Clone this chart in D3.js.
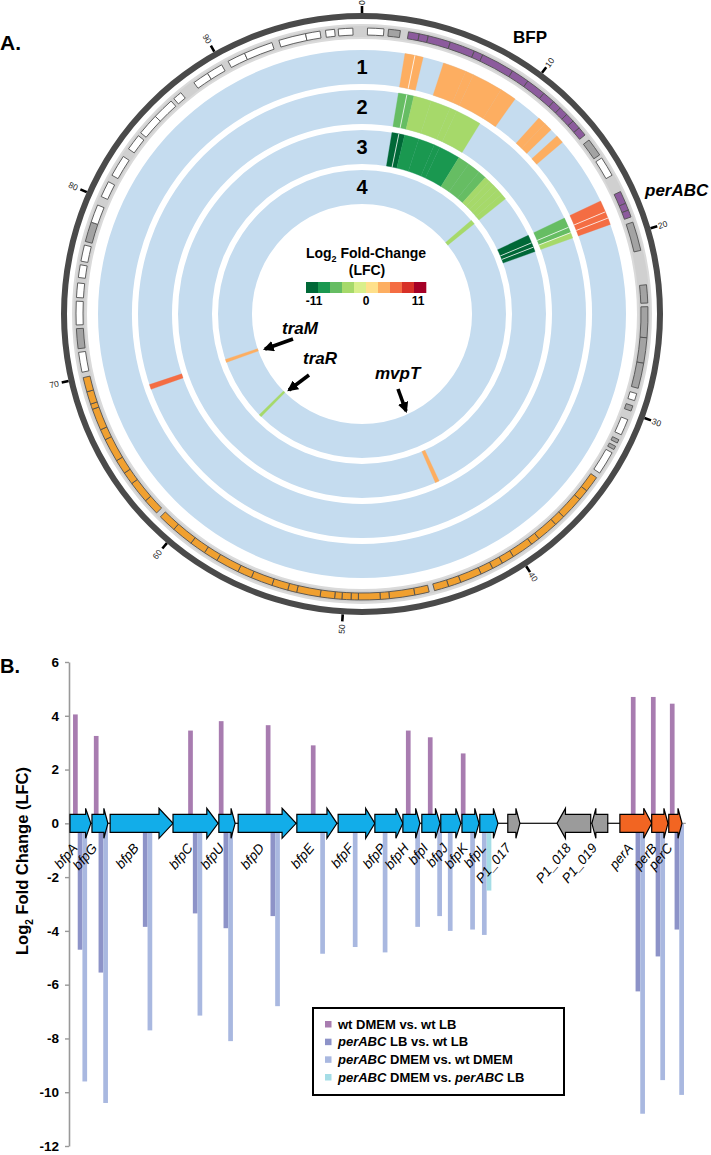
<!DOCTYPE html>
<html><head><meta charset="utf-8">
<script src="https://cdn.jsdelivr.net/npm/d3@7"></script>
<style>body{margin:0;background:#fff} svg{display:block;font-family:Arial,"Liberation Sans",sans-serif}</style>
</head><body>
<svg id="c" width="711" height="1155"></svg>
<script>
// ================= DATA =================
// ---- Panel A (circular plasmid map) ----
const plasmidLength = 98; // kb
const tickValues = [0,10,20,30,40,50,60,70,80,90];
const ringLabels = ["1","2","3","4"];
// heat-map genes on the plasmid (kb)
const circleGenes = ["bfpA","bfpG","bfpB","bfpC","bfpU","bfpD","bfpE","bfpF","bfpP","bfpH","bfpI","bfpJ","bfpK","bfpL","perA","perB","perC","mvpT","traR","traM"];
const circleStart = [2.55,3.15,3.65,4.9,6.3,6.8,8.65,9.65,10.75,11.45,11.95,12.45,12.95,13.45,17.6,18.3,18.7,42.25,61.1,68.15];
const circleEnd   = [3.15,3.65,4.9,6.3,6.8,8.65,9.65,10.75,11.45,11.95,12.45,12.95,13.45,13.95,18.3,18.7,19.1,42.6,61.4,68.5];
// LFC per ring (1: wt DMEM vs wt LB, 2: perABC LB vs wt LB, 3: perABC DMEM vs wt DMEM, 4: perABC DMEM vs perABC LB)
const ring1LFC = [4.05,3.25,null,3.45,3.8,3.65,2.9,null,null,3.45,3.2,null,2.6,null,4.7,4.7,4.45,null,null,null];
const ring2LFC = [-4.7,-5.55,-3.85,-3.35,-3.9,-3.45,null,null,null,null,null,null,null,null,-6.25,-4.95,-3.95,null,null,5.0];
const ring3LFC = [-9.6,-10.4,-7.7,-7.15,-8.1,-6.8,-4.85,-4.6,-4.8,-3.85,-3.45,-4.0,-3.95,-4.15,-10.8,-9.55,-10.1,3.0,null,null];
const ring4LFC = [null,null,null,null,null,null,null,null,null,null,null,null,null,-2.5,null,null,null,null,-3.0,3.0];
const separatorKb = [3.15,18.3,18.7]; // visible gene borders inside coloured blocks
const lfcColors = ["#006837","#1a9850","#66bd63","#a6d96a","#d9ef8b","#fee08b","#fdae61","#f46d43","#d73027","#a50026"];
const legendTicks = [-11,0,11];
// other annotated genes on the outer track: [start kb, end kb, type]
const trackGenes = [
 [0.3,1.2,"w"],[1.45,2.1,"g"],[14.3,15.3,"g"],[15.5,16.6,"w"],[19.4,21.0,"g"],
 [22.9,23.9,"g"],[24.1,25.8,"g"],[25.8,27.2,"g"],[27.2,28.6,"g"],
 [28.9,29.3,"w"],[29.6,29.9,"g"],[30.4,31.3,"w"],[31.6,31.8,"g"],[32.0,32.2,"g"],[32.4,33.7,"w"],
 [34.0,34.9,"o"],[34.9,35.5,"o"],[35.5,36.8,"o"],[36.8,37.4,"o"],[37.4,38.6,"o"],[38.6,39.1,"o"],[39.1,40.3,"o"],
 [40.3,41.0,"o"],[41.0,41.6,"o"],[41.6,42.3,"o"],[42.3,43.5,"o"],[43.5,44.2,"o"],[44.2,45.0,"o"],
 [45.3,46.1,"o"],[46.1,47.5,"o"],[47.5,48.0,"o"],[48.0,49.2,"o"],[49.2,49.6,"o"],[49.6,50.1,"o"],[50.1,50.5,"o"],
 [50.5,51.3,"o"],[51.3,52.6,"o"],[52.6,53.1,"o"],[53.1,54.0,"o"],[54.0,55.2,"o"],[55.2,56.0,"o"],[56.0,57.3,"o"],
 [57.3,58.1,"o"],[58.1,59.0,"o"],[59.0,60.2,"o"],[60.2,61.2,"o"],
 [61.5,62.4,"o"],[62.4,63.6,"o"],[63.6,64.3,"o"],[64.3,65.1,"o"],[65.1,66.4,"o"],[66.4,67.0,"o"],[67.0,68.2,"o"],
 [68.2,68.5,"o"],[68.5,69.2,"o"],[69.2,70.0,"o"],
 [70.3,71.4,"w"],[71.6,72.7,"g"],[72.9,74.2,"w"],[74.4,75.2,"w"],[75.5,76.2,"w"],[76.4,77.3,"w"],
 [77.5,78.6,"g"],[78.6,79.6,"w"],[80.1,81.0,"w"],[81.4,82.6,"w"],[83.1,84.0,"w"],[84.2,85.4,"w"],[85.4,86.6,"w"],
 [86.8,87.3,"w"],[88.2,89.1,"w"],[89.1,90.0,"w"],[90.4,91.4,"w"],[91.4,93.0,"w"],[93.4,94.9,"w"],[94.9,95.7,"w"],
 [96.0,96.5,"w"],[96.7,97.5,"w"]
];
const annotLabels = ["traM","traR","mvpT"];

// ---- Panel B (BFP / perABC locus) ----
const geneNames  = ["bfpA","bfpG","bfpB","bfpC","bfpU","bfpD","bfpE","bfpF","bfpP","bfpH","bfpI","bfpJ","bfpK","bfpL","P1_017","P1_018","P1_019","perA","perB","perC"];
const geneStart  = [0.00,0.58,1.06,2.72,3.93,4.44,5.99,7.08,8.05,8.79,9.29,9.79,10.35,10.82,11.56,12.86,13.78,14.52,15.36,15.81];
const geneEnd    = [0.55,1.00,2.72,3.91,4.36,5.97,7.05,8.05,8.79,9.24,9.77,10.32,10.80,11.30,11.88,13.75,14.20,15.36,15.79,16.16];
const geneStrand = [1,1,1,1,1,1,1,1,1,1,1,1,1,1,1,-1,-1,1,1,1];
const geneClass  = ["bfp","bfp","bfp","bfp","bfp","bfp","bfp","bfp","bfp","bfp","bfp","bfp","bfp","bfp","other","other","other","per","per","per"];
const barGenes   = ["bfpA","bfpG","bfpB","bfpC","bfpU","bfpD","bfpE","bfpF","bfpP","bfpH","bfpI","bfpJ","bfpK","bfpL","perA","perB","perC"];
const barPos     = [0.08,0.63,1.80,3.12,3.93,5.17,6.36,7.22,8.01,8.87,9.45,9.73,10.32,10.63,14.81,15.34,15.84];
const lfcWtDMEMvsWtLB      = [4.05,3.25,null,3.45,3.8,3.65,2.9,null,null,3.45,3.2,null,2.6,null,4.7,4.7,4.45];
const lfcPerLBvsWtLB       = [-4.7,-5.55,-3.85,-3.35,-3.9,-3.45,null,null,null,null,null,null,null,null,-6.25,-4.95,-3.95];
const lfcPerDMEMvsWtDMEM   = [-9.6,-10.4,-7.7,-7.15,-8.1,-6.8,-4.85,-4.6,-4.8,-3.85,-3.45,-4.0,-3.95,-4.15,-10.8,-9.55,-10.1];
const lfcPerDMEMvsPerLB    = [null,null,null,null,null,null,null,null,null,null,null,null,null,-2.5,null,null,null];
const seriesLabels = [["","wt DMEM vs. wt LB"],["perABC"," LB vs. wt LB"],["perABC"," DMEM vs. wt DMEM"],["perABC"," DMEM vs. ","perABC"," LB"]];
const seriesColors = ["#a87cb0","#8d93c8","#a9b8e0","#a5dde6"];
const yTicks = [6,4,2,0,-2,-4,-6,-8,-10,-12];

// ================= DRAW =================
const svg = d3.select("#c");
const FONT = "Arial, 'Liberation Sans', sans-serif";

// ---------- Panel A ----------
svg.append("text").attr("x",0).attr("y",50).attr("font-size",21).attr("font-weight","bold").text("A.");
const cx = 362, cy = 314;
const gA = svg.append("g").attr("transform",`translate(${cx},${cy})`);
const ang = d3.scaleLinear().domain([0,plasmidLength]).range([0,2*Math.PI]);
const arc = d3.arc();
const full = (r0,r1)=>arc({innerRadius:r0,outerRadius:r1,startAngle:0,endAngle:2*Math.PI});
const ringR = [[230,264],[190,224],[150,184],[110,144]];
const color = d3.scaleQuantize().domain([-11,11]).range(lfcColors);

gA.append("path").attr("d",full(295,301)).attr("fill","#4a4a4a");
gA.append("path").attr("d",full(275,290)).attr("fill","#dadada");
gA.append("path").attr("d",full(277,288)).attr("fill","#d0d0d0");
ringR.forEach(r=>gA.append("path").attr("d",full(r[0],r[1])).attr("fill","#c5dcef"));

const fills = {w:"#ffffff",g:"#a3a3a3",o:"#f0a030",p:"#8c5b9d"};
trackGenes.forEach(([s,e,t])=>{
  gA.append("path").attr("d",arc({innerRadius:279,outerRadius:286,startAngle:ang(s),endAngle:ang(e)}))
    .attr("fill",fills[t]).attr("stroke","#505050").attr("stroke-width",0.9);
});
// BFP and perABC genes (purple) on outer track
circleGenes.forEach((g,i)=>{
  if(!/^bfp|^per/.test(g)) return;
  gA.append("path").attr("d",arc({innerRadius:279,outerRadius:286,startAngle:ang(circleStart[i]),endAngle:ang(circleEnd[i])}))
    .attr("fill",fills.p).attr("stroke","#505050").attr("stroke-width",0.9);
});

// heat-map rings
[ring1LFC,ring2LFC,ring3LFC,ring4LFC].forEach((vals,ri)=>{
  vals.forEach((v,i)=>{
    if(v==null) return;
    gA.append("path").attr("d",arc({innerRadius:ringR[ri][0],outerRadius:ringR[ri][1],startAngle:ang(circleStart[i]),endAngle:ang(circleEnd[i])}))
      .attr("fill",color(v)).attr("stroke",color(v)).attr("stroke-width",0.3);
  });
  // white separators between adjacent coloured genes
  separatorKb.forEach(k=>{
    const i = circleStart.indexOf(k);
    if(i<1 || vals[i]==null || vals[i-1]==null) return;
    const a = ang(k);
    gA.append("line")
      .attr("x1",Math.sin(a)*ringR[ri][0]).attr("y1",-Math.cos(a)*ringR[ri][0])
      .attr("x2",Math.sin(a)*ringR[ri][1]).attr("y2",-Math.cos(a)*ringR[ri][1])
      .attr("stroke","#fff").attr("stroke-width",0.9).attr("stroke-opacity",0.85);
  });
});

// ring numbers
ringLabels.forEach((l,i)=>{
  gA.append("text").attr("x",0).attr("y",-(ringR[i][0]+ringR[i][1])/2).attr("dy","0.36em")
    .attr("text-anchor","middle").attr("font-size",20).attr("font-weight","bold").text(l);
});

// ticks
tickValues.forEach(t=>{
  const a = ang(t)*180/Math.PI;
  const g = gA.append("g").attr("transform",`rotate(${a-90})`);
  g.append("line").attr("x1",301).attr("x2",308).attr("stroke","#000").attr("stroke-width",2.6);
  if(a<180){
    g.append("text").attr("x",309).attr("dy","0.35em").attr("font-size",8.5).attr("fill","#222").text(t);
  } else {
    g.append("text").attr("transform","rotate(180)").attr("x",-311).attr("dy","0.35em").attr("text-anchor","end").attr("font-size",8.5).attr("fill","#222").text(t);
  }
});

// region labels
svg.append("text").attr("x",530).attr("y",43).attr("text-anchor","middle").attr("font-size",17).attr("font-weight","bold").text("BFP");
svg.append("text").attr("x",645).attr("y",196).attr("font-size",17).attr("font-weight","bold").attr("font-style","italic").text("perABC");

// center legend
const lg = svg.append("g");
const t1 = lg.append("text").attr("x",366).attr("y",258).attr("text-anchor","middle").attr("font-size",14).attr("font-weight","bold");
t1.append("tspan").text("Log");
t1.append("tspan").attr("dy",4).attr("font-size",9).text("2");
t1.append("tspan").attr("dy",-4).text(" Fold-Change");
lg.append("text").attr("x",367).attr("y",275).attr("text-anchor","middle").attr("font-size",14).attr("font-weight","bold").text("(LFC)");
const lx = d3.scaleLinear().domain([0,lfcColors.length]).range([306,426]);
lfcColors.forEach((c,i)=>lg.append("rect").attr("x",lx(i)).attr("y",282).attr("width",lx(i+1)-lx(i)+0.3).attr("height",11).attr("fill",c));
const lv = d3.scaleLinear().domain([-11,11]).range([314,418]);
legendTicks.forEach(v=>lg.append("text").attr("x",lv(v)).attr("y",305).attr("text-anchor","middle").attr("font-size",12).attr("font-weight","bold").text(v));

// annotation labels + arrows
svg.append("defs").append("marker").attr("id","ah").attr("viewBox","0 0 10 10").attr("refX",8).attr("refY",5)
  .attr("markerWidth",3).attr("markerHeight",3).attr("orient","auto")
  .append("path").attr("d","M0,0L10,5L0,10Z").attr("fill","#000");
const annotPos = [[282,334,293,339,265,349],[303,364,309,375,289,390],[375,379,398,389,406,411]];
annotLabels.forEach((l,i)=>{
  const p = annotPos[i];
  svg.append("text").attr("x",p[0]).attr("y",p[1]).attr("font-size",17).attr("font-weight","bold").attr("font-style","italic").text(l);
  svg.append("line").attr("x1",p[2]).attr("y1",p[3]).attr("x2",p[4]).attr("y2",p[5]).attr("stroke","#000").attr("stroke-width",3.6).attr("marker-end","url(#ah)");
});

// ---------- Panel B ----------
svg.append("text").attr("x",0).attr("y",673).attr("font-size",20).attr("font-weight","bold").text("B.");
const xB = d3.scaleLinear().domain([0,16.16]).range([70,682]);
const yB = d3.scaleLinear().domain([-12,6]).range([1146,662]);
const bw = xB(0.124)-xB(0);

// y axis
const ax = svg.append("g").attr("transform","translate(69,0)")
  .call(d3.axisLeft(yB).tickValues(yTicks).tickSize(4).tickSizeOuter(0).tickFormat(d=>String(d)));
ax.select(".domain").attr("stroke","#999").attr("stroke-width",1.6);
ax.selectAll(".tick line").attr("stroke","#999").attr("stroke-width",1.4);
ax.selectAll(".tick text").attr("font-size",13.5).attr("font-weight","bold").attr("font-family",FONT).attr("fill","#000").attr("x",-10);
const yl = svg.append("text").attr("transform","translate(28,861) rotate(-90)").attr("text-anchor","middle").attr("font-size",16.5).attr("font-weight","bold");
yl.append("tspan").text("Log");
yl.append("tspan").attr("dy",5).attr("font-size",10).text("2");
yl.append("tspan").attr("dy",-5).text(" Fold Change (LFC)");

// bars
const series = [lfcWtDMEMvsWtLB,lfcPerLBvsWtLB,lfcPerDMEMvsWtDMEM,lfcPerDMEMvsPerLB];
series.forEach((vals,si)=>{
  vals.forEach((v,i)=>{
    if(v==null) return;
    svg.append("rect").attr("x",xB(barPos[i])+si*bw).attr("width",bw)
      .attr("y",yB(Math.max(0,v))).attr("height",Math.abs(yB(v)-yB(0))).attr("fill",seriesColors[si]);
  });
});

// zero / gene baseline
svg.append("line").attr("x1",69).attr("x2",xB(16.26)).attr("y1",yB(0)).attr("y2",yB(0)).attr("stroke","#999").attr("stroke-width",1.2);
svg.append("line").attr("x1",xB(0)).attr("x2",xB(16.16)).attr("y1",yB(0)).attr("y2",yB(0)).attr("stroke","#222").attr("stroke-width",1.2);

// gene arrows
const classFill = {bfp:"#12ade9",other:"#9b9b9b",per:"#f26522"};
const yc = yB(0);
geneNames.forEach((g,i)=>{
  const x0 = xB(geneStart[i]), x1 = xB(geneEnd[i]);
  const len = x1-x0, h = Math.max(4,Math.min(14,0.25*len));
  let pts;
  if(geneStrand[i]>0){
    pts = [[x0,yc-9],[x1-h,yc-9],[x1-h,yc-15],[x1,yc],[x1-h,yc+15],[x1-h,yc+9],[x0,yc+9]];
  } else {
    pts = [[x1,yc-9],[x0+h,yc-9],[x0+h,yc-15],[x0,yc],[x0+h,yc+15],[x0+h,yc+9],[x1,yc+9]];
  }
  svg.append("path").attr("d","M"+pts.map(p=>p.join(",")).join("L")+"Z")
    .attr("fill",classFill[geneClass[i]]).attr("stroke","#000").attr("stroke-width",1.2).attr("stroke-linejoin","miter");
  const cxl = (x0+x1)/2 - 2;
  svg.append("text").attr("transform",`translate(${cxl},${yc+25}) rotate(-50)`).attr("text-anchor","end")
    .attr("font-size",13.5).attr("font-style","italic").text(g);
});

// legend
const L = svg.append("g");
L.append("rect").attr("x",313).attr("y",1008).attr("width",251).attr("height",87).attr("fill","#fff").attr("stroke","#000").attr("stroke-width",2);
const rowY = d3.scaleLinear().domain([0,3]).range([1024,1077]);
seriesLabels.forEach((parts,i)=>{
  L.append("rect").attr("x",325).attr("y",rowY(i)-3).attr("width",6.5).attr("height",6.5).attr("fill",seriesColors[i]);
  const t = L.append("text").attr("x",338).attr("y",rowY(i)).attr("dy","0.36em").attr("font-size",13).attr("font-weight","bold");
  parts.forEach(p=>{ if(!p) return; t.append("tspan").attr("font-style",p==="perABC"?"italic":"normal").text(p); });
});
</script>
</body></html>
